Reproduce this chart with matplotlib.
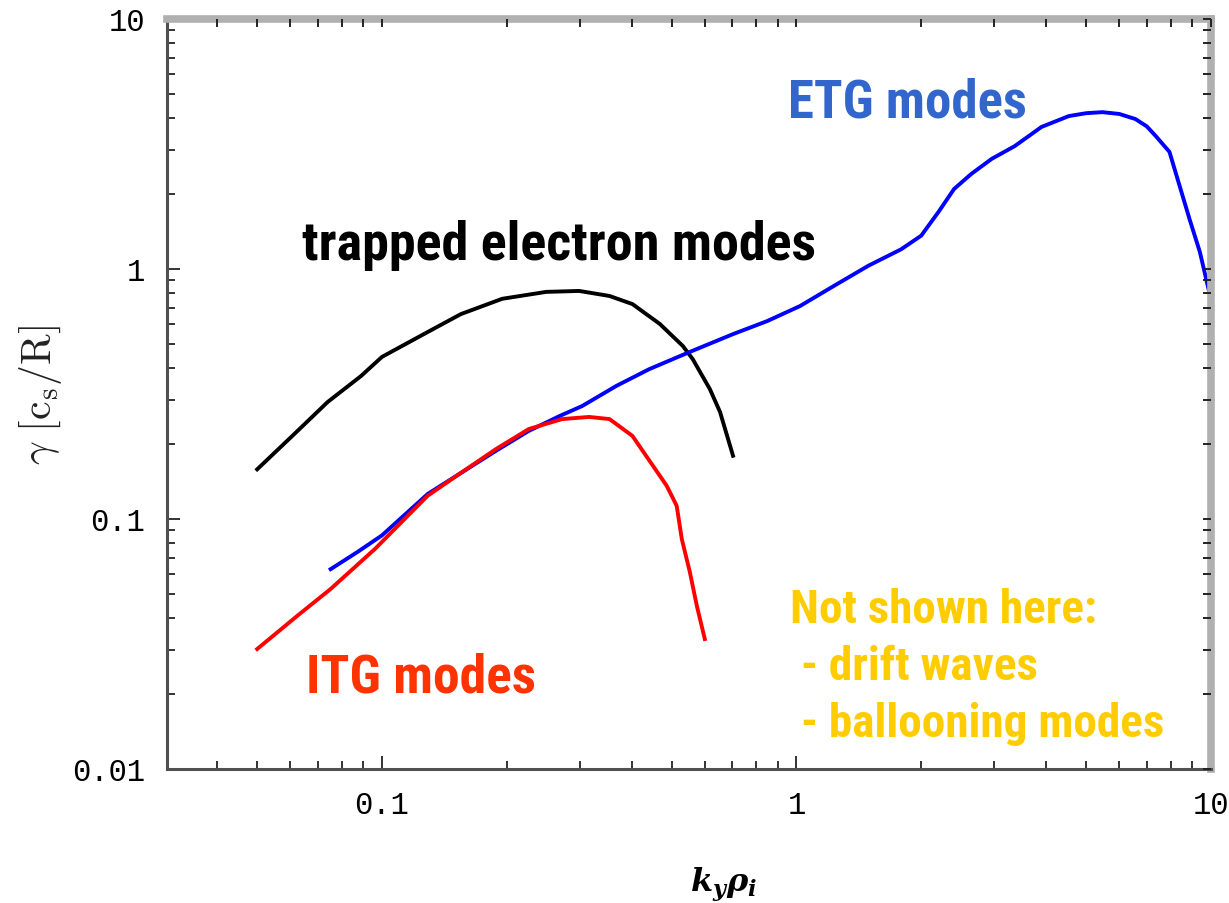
import matplotlib
matplotlib.use('Agg')
import matplotlib.pyplot as plt
from matplotlib import font_manager
from matplotlib.ticker import LogLocator, NullFormatter, FixedLocator, FixedFormatter

# growth rate spectra, gamma [c_s/R] vs k_y rho_i
tem_k = [0.05, 0.0615, 0.074, 0.089, 0.1, 0.129, 0.155, 0.195, 0.249, 0.299,
         0.354, 0.402, 0.468, 0.532, 0.562, 0.618, 0.654, 0.703]
tem_gamma = [0.158, 0.219, 0.294, 0.373, 0.445, 0.56, 0.66, 0.76, 0.81, 0.817,
             0.78, 0.724, 0.603, 0.492, 0.436, 0.331, 0.268, 0.179]

itg_k = [0.05, 0.0625, 0.0752, 0.0962, 0.129, 0.156, 0.188, 0.226, 0.272, 0.316,
         0.354, 0.402, 0.442, 0.486, 0.514, 0.529, 0.553, 0.575, 0.601]
itg_gamma = [0.0302, 0.041, 0.0525, 0.0759, 0.124, 0.154, 0.19, 0.229, 0.251, 0.256,
             0.251, 0.215, 0.171, 0.136, 0.113, 0.083, 0.0614, 0.0449, 0.0331]

etg_k = [0.0752, 0.0875, 0.1, 0.129, 0.188, 0.226, 0.268, 0.304, 0.368, 0.442,
         0.553, 0.703, 0.85, 1.02, 1.23, 1.49, 1.79, 2.0, 2.2, 2.4, 2.64, 2.96,
         3.36, 3.9, 4.54, 5.0, 5.47, 6.01, 6.57, 7.0, 7.36, 7.94, 8.4, 8.88, 9.4, 9.9]
etg_gamma = [0.063, 0.074, 0.086, 0.126, 0.187, 0.225, 0.258, 0.283, 0.341, 0.398,
             0.466, 0.549, 0.619, 0.711, 0.855, 1.03, 1.2, 1.36, 1.69, 2.09, 2.4, 2.76,
             3.1, 3.7, 4.09, 4.2, 4.24, 4.17, 3.98, 3.72, 3.4, 2.94, 2.15, 1.58, 1.17, 0.81]

x_ticks = [0.1, 1, 10]
x_tick_labels = ['0.1', '1', '10']
y_ticks = [0.01, 0.1, 1, 10]
y_tick_labels = ['0.01', '0.1', '1', '10']

note_lines = ['Not shown here:', ' - drift waves', ' - ballooning modes']


def pick_font(candidates):
    names = {f.name for f in font_manager.fontManager.ttflist}
    for name in candidates:
        if name in names:
            return name
    return 'DejaVu Sans'


label_font = pick_font(['Liberation Sans Narrow', 'Arial Narrow', 'Roboto Condensed',
                        'Liberation Sans'])
tick_font = pick_font(['Liberation Mono', 'DejaVu Sans Mono'])

plt.rcParams['mathtext.fontset'] = 'custom'
plt.rcParams['mathtext.it'] = 'DejaVu Serif:italic:bold'
plt.rcParams['mathtext.rm'] = 'DejaVu Serif'

fig = plt.figure(figsize=(12.29, 9.04), dpi=100)
ax = fig.add_axes([167 / 1229, 134 / 904, 1044 / 1229, 750 / 904])

ax.plot(tem_k, tem_gamma, color='black', lw=2.8, solid_joinstyle='round')
ax.plot(etg_k, etg_gamma, color='#0000ff', lw=2.8, solid_joinstyle='round')
ax.plot(itg_k, itg_gamma, color='#ff0000', lw=2.8, solid_joinstyle='round')

ax.set_xscale('log')
ax.set_yscale('log')
ax.set_xlim(0.0303, 10)
ax.set_ylim(0.01, 10)

# frame: dark left/bottom, light grey top/right
for side in ['left', 'bottom']:
    ax.spines[side].set_color('#505050')
    ax.spines[side].set_linewidth(2.2)
for side in ['top', 'right']:
    ax.spines[side].set_color('#b0b0b0')
    ax.spines[side].set_linewidth(5.5)

ax.xaxis.set_major_locator(FixedLocator(x_ticks))
ax.xaxis.set_major_formatter(FixedFormatter(x_tick_labels))
ax.yaxis.set_major_locator(FixedLocator(y_ticks))
ax.yaxis.set_major_formatter(FixedFormatter(y_tick_labels))
for axis in [ax.xaxis, ax.yaxis]:
    axis.set_minor_locator(LogLocator(base=10, subs=range(2, 10), numticks=20))
    axis.set_minor_formatter(NullFormatter())

ax.tick_params(which='both', direction='in', color='#333333', width=1.4,
               top=False, right=False)
ax.tick_params(which='major', length=9.5)
ax.tick_params(which='minor', length=6)
ax.tick_params(axis='y', which='major', pad=16)
ax.tick_params(axis='x', which='major', pad=15)
for lab in ax.get_xticklabels() + ax.get_yticklabels():
    lab.set_fontfamily(tick_font)
    lab.set_fontsize(22)

# short ticks along the top and right edges
ax_top = ax.twiny()
ax_top.set_xscale('log')
ax_top.set_xlim(ax.get_xlim())
ax_top.xaxis.set_major_locator(FixedLocator(x_ticks))
ax_top.xaxis.set_minor_locator(LogLocator(base=10, subs=range(2, 10), numticks=20))
ax_top.tick_params(which='both', direction='in', color='#222222', width=1.4,
                   length=6, labeltop=False, labelbottom=False, bottom=False)
ax_right = ax.twinx()
ax_right.set_yscale('log')
ax_right.set_ylim(ax.get_ylim())
ax_right.yaxis.set_major_locator(FixedLocator(y_ticks))
ax_right.yaxis.set_minor_locator(LogLocator(base=10, subs=range(2, 10), numticks=20))
ax_right.tick_params(which='both', direction='in', color='#222222', width=1.4,
                     length=6, labelright=False, labelleft=False, left=False)
for a in [ax_top, ax_right]:
    for side in a.spines:
        a.spines[side].set_visible(False)
    a.xaxis.set_minor_formatter(NullFormatter())
    a.yaxis.set_minor_formatter(NullFormatter())

ax.set_xlabel(r'$k_y\rho_i$', fontsize=23, va='center')
ax.xaxis.set_label_coords(0.5326, -0.1533)
ax.set_ylabel(r'$\gamma\ [\mathrm{c_s/R}]$', fontsize=30, color='#222222',
              math_fontfamily='cm', va='center')
ax.yaxis.set_label_coords(-0.1216, 0.5)

# mode labels
ax.text(0.956, 4.09, 'ETG modes', color='#3366cc', fontsize=38,
        fontfamily=label_font, fontweight='bold', va='baseline', ha='left')
ax.text(0.0643, 1.096, 'trapped electron modes', color='black', fontsize=39,
        fontfamily=label_font, fontweight='bold', va='baseline', ha='left')
ax.text(0.0654, 0.0205, 'ITG modes', color='#ff3300', fontsize=38.5,
        fontfamily=label_font, fontweight='bold', va='baseline', ha='left')
for line, y in zip(note_lines, [0.0387, 0.0229, 0.01355]):
    ax.text(0.967, y, line, color='#ffcc00', fontsize=34,
            fontfamily=label_font, fontweight='bold', va='baseline', ha='left')

plt.savefig('out.png', dpi=100)
